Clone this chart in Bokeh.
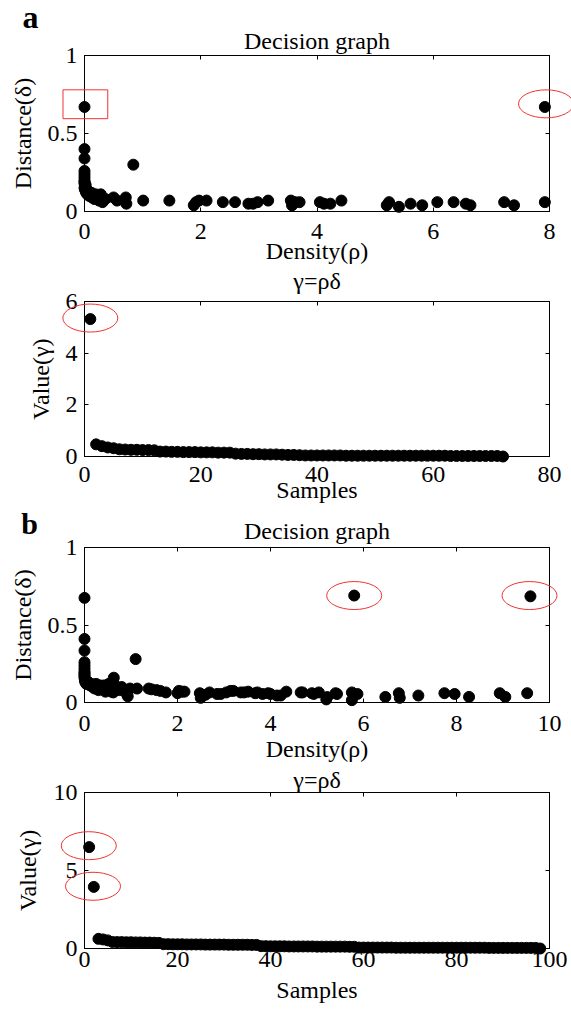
from bokeh.plotting import figure
from bokeh.models import Range1d, LinearAxis, FixedTicker
from bokeh.layouts import column
from bokeh.embed import file_html
from bokeh.resources import INLINE
from bokeh.core.properties import value

FONT = "Liberation Serif"
FS = "24px"

# ---------------- panel a : decision graph (rho, delta) ----------------
a_rho = [0.00, 0.00, 0.00, 0.00, 0.00, 0.00, 0.00, 0.00, 0.01, 0.01, 0.02, 0.03,
         0.05, 0.08, 0.10, 0.13, 0.15, 0.19, 0.22, 0.25, 0.28, 0.30, 0.33, 0.36,
         0.50, 0.56, 0.71, 0.72, 0.84, 1.01, 1.46,
         1.88, 1.92, 1.97, 2.10, 2.38, 2.59, 2.82, 2.90, 2.98, 3.16, 3.55, 3.57,
         3.62, 3.70, 4.05, 4.12, 4.23, 4.42,
         5.20, 5.24, 5.41, 5.61, 5.81, 6.07, 6.35, 6.56, 6.64, 7.22, 7.39, 7.92, 7.92,
         0.00, 0.00, 0.02, 0.04, 0.06, 0.12, 0.17, 0.20, 0.26, 0.31]
a_delta = [0.67, 0.40, 0.34, 0.26, 0.24, 0.22, 0.20, 0.18, 0.16, 0.14, 0.13, 0.12,
           0.11, 0.10, 0.11, 0.09, 0.10, 0.11, 0.08, 0.07, 0.11, 0.09, 0.07, 0.08,
           0.09, 0.07, 0.09, 0.05, 0.30, 0.07, 0.07,
           0.04, 0.06, 0.07, 0.07, 0.06, 0.06, 0.05, 0.05, 0.06, 0.07, 0.07, 0.04,
           0.06, 0.06, 0.06, 0.05, 0.05, 0.07,
           0.04, 0.06, 0.03, 0.05, 0.04, 0.06, 0.06, 0.05, 0.04, 0.06, 0.04, 0.06, 0.67,
           0.15, 0.19, 0.17, 0.14, 0.13, 0.12, 0.08, 0.10, 0.10, 0.06]

# ---------------- panel a : gamma = rho * delta (sorted) ----------------
a_gamma = [5.32, 0.47, 0.40, 0.35, 0.32,
           0.28, 0.27, 0.26, 0.26, 0.25, 0.25, 0.24,
           0.19, 0.19, 0.18, 0.18, 0.17, 0.17, 0.17, 0.16, 0.16, 0.16, 0.15, 0.15, 0.15,
           0.11, 0.10, 0.10, 0.09, 0.09, 0.08, 0.08, 0.08, 0.07, 0.06, 0.06, 0.05,
           0.04, 0.04, 0.04, 0.04, 0.04, 0.04, 0.04, 0.03, 0.03, 0.03, 0.03, 0.03,
           0.03, 0.03, 0.03, 0.03, 0.03, 0.03, 0.03, 0.03, 0.03, 0.03, 0.03, 0.03,
           0.03, 0.02, 0.02, 0.02, 0.02, 0.02, 0.02, 0.02, 0.02, 0.02,
           0.00]
a_samples = list(range(1, len(a_gamma) + 1))

# ---------------- panel b : decision graph (rho, delta) ----------------
b_rho = [0.00, 0.00, 0.00, 0.00, 0.00, 0.00, 0.00, 0.00, 0.00, 0.00, 0.01, 0.01, 0.02, 0.03,
         0.06, 0.09, 0.12, 0.15, 0.18, 0.22, 0.27, 0.30, 0.34, 0.38, 0.42, 0.45, 0.49,
         0.54, 0.58, 0.62, 0.63, 0.66, 0.70, 0.75, 0.80, 0.85, 0.90, 0.93, 0.98, 1.10, 1.13,
         1.38, 1.44, 1.55, 1.63, 1.75, 2.00, 2.03, 2.10, 2.15, 2.48, 2.50, 2.60, 2.69,
         2.85, 2.93, 3.05, 3.14, 3.20, 3.36, 3.43, 3.52, 3.67, 3.72, 3.83, 3.95, 4.00,
         4.14, 4.22, 4.34, 4.65, 4.69, 4.89, 4.93, 5.04, 5.20, 5.22, 5.40, 5.43, 5.75,
         5.75, 5.80, 5.87,
         6.47, 6.76, 6.78, 7.18, 7.74, 7.96, 8.27, 8.93, 9.05, 9.52, 9.59,
         0.00, 0.04, 0.25, 0.52]
b_delta = [0.675, 0.41, 0.335, 0.26, 0.24, 0.22, 0.20, 0.19, 0.17, 0.16, 0.15, 0.14, 0.13, 0.14,
           0.12, 0.13, 0.11, 0.12, 0.10, 0.09, 0.10, 0.08, 0.11, 0.09, 0.11, 0.07, 0.10,
           0.09, 0.07, 0.065, 0.16, 0.11, 0.09, 0.08, 0.10, 0.08, 0.06, 0.04, 0.09, 0.28, 0.09,
           0.09, 0.085, 0.08, 0.075, 0.065, 0.06, 0.075, 0.07, 0.07, 0.06, 0.03, 0.05, 0.065,
           0.055, 0.055, 0.065, 0.075, 0.075, 0.065, 0.065, 0.07, 0.06, 0.065, 0.055, 0.06, 0.055,
           0.045, 0.045, 0.07, 0.065, 0.065, 0.06, 0.055, 0.065, 0.02, 0.035, 0.06, 0.055, 0.065,
           0.015, 0.69, 0.055,
           0.036, 0.06, 0.03, 0.045, 0.06, 0.055, 0.036, 0.06, 0.036, 0.06, 0.685,
           0.18, 0.12, 0.12, 0.12]

# ---------------- panel b : gamma = rho * delta (sorted) ----------------
b_gamma = [6.50, 3.95, 0.62, 0.58, 0.52,
           0.42, 0.41, 0.41, 0.40, 0.40, 0.39, 0.39, 0.38, 0.38, 0.37, 0.36,
           0.28, 0.28, 0.27, 0.27, 0.27, 0.26, 0.26, 0.26, 0.26, 0.25, 0.25,
           0.25, 0.25, 0.25, 0.24, 0.24, 0.24, 0.24, 0.24, 0.23, 0.23,
           0.15, 0.15, 0.14, 0.14, 0.14, 0.14, 0.13, 0.13, 0.13, 0.13, 0.13,
           0.13, 0.12, 0.12, 0.12, 0.12, 0.12, 0.12, 0.12, 0.11, 0.11,
           0.06, 0.06, 0.06, 0.06, 0.06, 0.06, 0.06, 0.06, 0.05, 0.05, 0.05, 0.05, 0.05,
           0.05, 0.05, 0.05, 0.05, 0.05, 0.05, 0.05, 0.05, 0.05, 0.05, 0.05, 0.05, 0.05,
           0.05, 0.05, 0.04, 0.04, 0.04, 0.04, 0.04, 0.04, 0.04, 0.04, 0.04, 0.04, 0.04,
           0.00]
b_samples = list(range(1, len(b_gamma) + 1))

# ---------------- red highlight marks ----------------
a_box = dict(left=[-0.37], right=[0.40], bottom=[0.595], top=[0.78])
a_ell_x, a_ell_y = [7.94], [0.69]
a_gam_ell_x, a_gam_ell_y = [1.0], [5.36]
b_ell_x, b_ell_y = [5.80, 9.57], [0.69, 0.69]
b_gam_ell_x, b_gam_ell_y = [0.92, 1.83], [6.59, 3.99]

RED = "#ee3333"


def style_axis(ax, ticks, show_labels, overrides, ml_standoff=7, al_standoff=5):
    ax.ticker = FixedTicker(ticks=ticks)
    ax.major_tick_in = 4
    ax.major_tick_out = 0
    ax.minor_tick_line_color = None
    ax.axis_line_color = "black"
    ax.axis_line_width = 1
    ax.major_tick_line_color = "black"
    ax.major_label_text_font = FONT
    ax.major_label_text_color = "black"
    ax.axis_label_text_font = FONT
    ax.axis_label_text_font_size = FS
    ax.axis_label_text_font_style = "normal"
    ax.axis_label_text_color = "black"
    ax.axis_label_standoff = al_standoff
    if show_labels:
        ax.major_label_text_font_size = FS
        ax.major_label_standoff = ml_standoff
        ax.major_label_overrides = overrides
    else:
        # mirrored ticks only: empty tick labels
        ax.major_label_text_font_size = "2px"
        ax.major_label_standoff = 0
        ax.major_label_overrides = {t: "" for t in ticks}


def make_fig(title, xr, yr, xticks, yticks, xlabel, ylabel, height, top, bottom,
             x_ml, x_al, y_al, t_dy):
    p = figure(width=571, height=height,
               x_range=Range1d(*xr), y_range=Range1d(*yr),
               output_backend="svg", toolbar_location=None,
               min_border_left=84, min_border_right=22,
               min_border_top=top, min_border_bottom=bottom,
               x_axis_label=xlabel, y_axis_label=ylabel,
               background_fill_color="white", border_fill_color="white")
    p.grid.visible = False
    p.outline_line_color = "black"
    xo = {t: str(t) for t in xticks}
    yo = {t: ("%g" % t) for t in yticks}
    style_axis(p.xaxis[0], xticks, True, xo, x_ml, x_al)
    style_axis(p.yaxis[0], yticks, True, yo, 7, y_al)
    ax_top = LinearAxis()
    style_axis(ax_top, xticks, False, {})
    p.add_layout(ax_top, "above")
    ax_right = LinearAxis()
    style_axis(ax_right, yticks, False, {})
    p.add_layout(ax_right, "right")
    # plot title, centred over the axes box
    p.text(x=[(xr[0] + xr[1]) / 2], y=[yr[1]], text=[title], y_offset=t_dy,
           text_font=value(FONT), text_font_size=FS, text_align="center",
           text_baseline="alphabetic", text_color="black", level="overlay")
    return p


def panel_label(p, text, size, dx, dy):
    p.text(x=[0], y=[p.y_range.end], text=[text], x_offset=dx, y_offset=dy,
           text_font=value(FONT), text_font_size=size, text_font_style="bold",
           text_align="center", text_baseline="alphabetic", text_color="black",
           level="overlay")


# panel a, decision graph
p1 = make_fig("Decision graph", (0, 8), (0, 1), [0, 2, 4, 6, 8], [0, 0.5, 1],
              "Density(\u03c1)", "Distance(\u03b4)", 267, 55, 56, 12, -4, 9, -15)
p1.scatter(a_rho, a_delta, size=11, color="black", level="overlay")
p1.quad(left=a_box["left"], right=a_box["right"], bottom=a_box["bottom"], top=a_box["top"],
        fill_color=None, line_color=RED, line_width=1, level="overlay")
p1.ellipse(a_ell_x, a_ell_y, width=55, height=28, width_units="screen", height_units="screen",
           fill_color=None, line_color=RED, line_width=1, level="overlay")
panel_label(p1, "a", "32px", -54, -39)

# panel a, gamma
p2 = make_fig("\u03b3=\u03c1\u03b4", (0, 80), (0, 6), [0, 20, 40, 60, 80], [0, 2, 4, 6],
              "Samples", "Value(\u03b3)", 238, 34, 48, 10, -8, 9, -21)
p2.scatter(a_samples, a_gamma, size=11, color="black", level="overlay")
p2.ellipse(a_gam_ell_x, a_gam_ell_y, width=55, height=28, width_units="screen", height_units="screen",
           fill_color=None, line_color=RED, line_width=1, level="overlay")

# panel b, decision graph
p3 = make_fig("Decision graph", (0, 10), (0, 1), [0, 2, 4, 6, 8, 10], [0, 0.5, 1],
              "Density(\u03c1)", "Distance(\u03b4)", 263, 42, 66, 13, 2, 9, -17)
p3.scatter(b_rho, b_delta, size=11, color="black", level="overlay")
p3.ellipse(b_ell_x, b_ell_y, width=55, height=28, width_units="screen", height_units="screen",
           fill_color=None, line_color=RED, line_width=1, level="overlay")
panel_label(p3, "b", "30px", -55, -24)

# panel b, gamma
p4 = make_fig("\u03b3=\u03c1\u03b4", (0, 100), (0, 10), [0, 20, 40, 60, 80, 100], [0, 5, 10],
              "Samples", "Value(\u03b3)", 244, 24, 64, 3, 7, 10, -13)
p4.scatter(b_samples, b_gamma, size=11, color="black", level="overlay")
p4.ellipse(b_gam_ell_x, b_gam_ell_y, width=55, height=28, width_units="screen", height_units="screen",
           fill_color=None, line_color=RED, line_width=1, level="overlay")

layout = column(p1, p2, p3, p4, spacing=0)
open("out.html", "w").write(file_html(layout, INLINE))
